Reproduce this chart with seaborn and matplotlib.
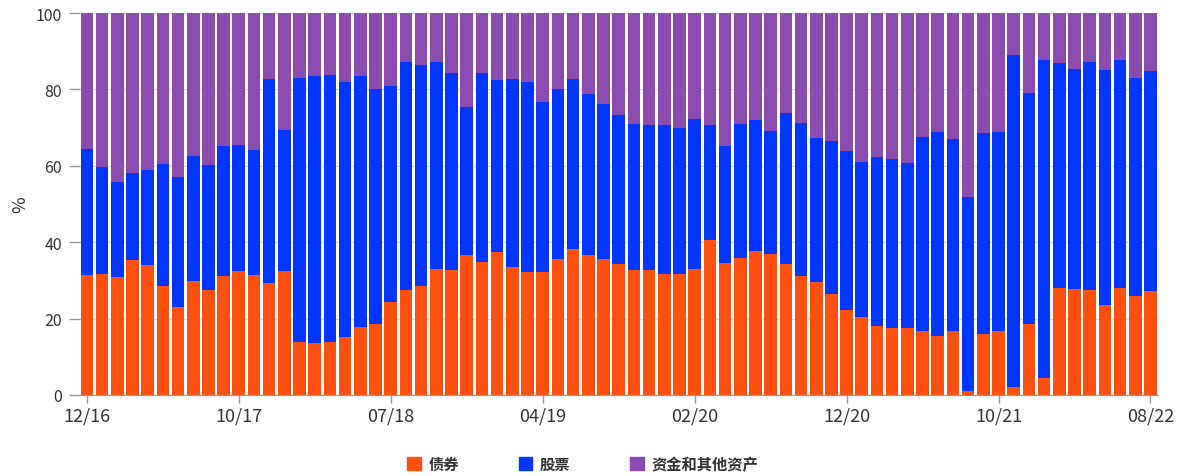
import numpy as np
import pandas as pd
import seaborn as sns
import matplotlib.pyplot as plt
from matplotlib.patches import Patch

sns.set_style("white")
plt.rcParams['font.family'] = ['Noto Sans CJK SC', 'DejaVu Sans']

# bond share (bottom) and bond+stock cumulative share, %
bond = [31.4, 31.7, 31.0, 35.2, 34.1, 28.6, 23.0, 29.7, 27.5, 31.2,
        32.4, 31.4, 29.4, 32.4, 13.9, 13.5, 13.8, 15.2, 17.7, 18.6,
        24.4, 27.4, 28.6, 33.1, 32.8, 36.7, 34.8, 37.3, 33.5, 32.2,
        32.1, 35.7, 38.2, 36.7, 35.6, 34.2, 32.8, 32.6, 31.7, 31.7,
        33.1, 40.5, 34.5, 35.9, 37.6, 36.9, 34.4, 31.2, 29.6, 26.5,
        22.2, 20.5, 18.1, 17.6, 17.4, 16.8, 15.4, 16.8, 1.1, 15.9,
        16.7, 2.2, 18.5, 4.3, 28.0, 27.7, 27.6, 23.5, 28.0, 26.0,
        27.3]
bond_stock = [64.5, 59.8, 55.7, 58.2, 58.9, 60.5, 57.0, 62.5, 60.3, 65.1,
              65.5, 64.2, 82.8, 69.4, 82.9, 83.4, 83.9, 81.9, 83.4, 80.1,
              81.0, 87.2, 86.4, 87.3, 84.3, 75.3, 84.3, 82.5, 82.6, 82.0,
              76.7, 80.2, 82.8, 78.7, 76.1, 73.3, 70.9, 70.8, 70.8, 69.9,
              72.3, 70.6, 65.2, 71.0, 72.0, 69.2, 73.8, 71.2, 67.2, 66.5,
              63.9, 61.1, 62.2, 61.7, 60.7, 67.5, 68.9, 67.0, 51.7, 68.5,
              68.8, 88.9, 79.1, 87.6, 86.9, 85.4, 87.2, 85.0, 87.8, 83.0,
              84.9]
tick_labels = ["12/16", "10/17", "07/18", "04/19", "02/20", "12/20", "10/21", "08/22"]
series_names = ["债券", "股票", "资金和其他资产"]
colors = ["#FF5010", "#0036FF", "#8B4BAF"]

df = pd.DataFrame({"idx": np.arange(len(bond)), "bond": bond,
                   "bond_stock": bond_stock})
df["total"] = 100.0

fig = plt.figure(figsize=(11.89, 4.77), dpi=100)
ax = fig.add_axes([0.0673, 0.170, 0.9067, 0.8006])

# stacked look: full column purple, then bond+stock blue, then bond orange
for col, c in zip(["total", "bond_stock", "bond"], colors[::-1]):
    sns.barplot(data=df, x="idx", y=col, color=c, width=0.83,
                saturation=1, edgecolor="none", ax=ax, zorder=2)

ax.set_ylim(0, 100)
ax.set_xlim(-0.45, len(bond) - 0.5)
ax.set_yticks(range(0, 101, 20))
ax.yaxis.grid(True, color="#d9d9d9", linewidth=0.8, zorder=0)
ax.set_axisbelow(True)
ax.set_xticks(range(0, len(bond), 10))
ax.set_xticklabels(tick_labels)
ax.tick_params(axis="x", labelsize=13, length=6, width=1, pad=2, bottom=True)
ax.tick_params(axis="y", labelsize=11.5, length=8, width=1, left=True, pad=5)
for lab in ax.get_xticklabels() + ax.get_yticklabels():
    lab.set_color("#333333")
ax.tick_params(axis="both", color="#999999")
for s in ["top", "right", "left"]:
    ax.spines[s].set_visible(False)
ax.spines["bottom"].set_color("#999999")
ax.set_xlabel("")
ax.set_ylabel("%", fontsize=13, color="#333333")
ax.yaxis.set_label_coords(-0.047, 0.5)

handles = [Patch(color=c, label=n) for c, n in zip(colors, series_names)]
leg = fig.legend(handles=handles, loc="center", bbox_to_anchor=(0.49, 0.025),
                 ncol=3, frameon=False, fontsize=11, handlelength=0.9,
                 handleheight=0.9, columnspacing=3.9, handletextpad=0.5)
for t in leg.get_texts():
    t.set_color("#333333")
    t.set_fontweight("bold")

fig.savefig("out.png", dpi=100)
